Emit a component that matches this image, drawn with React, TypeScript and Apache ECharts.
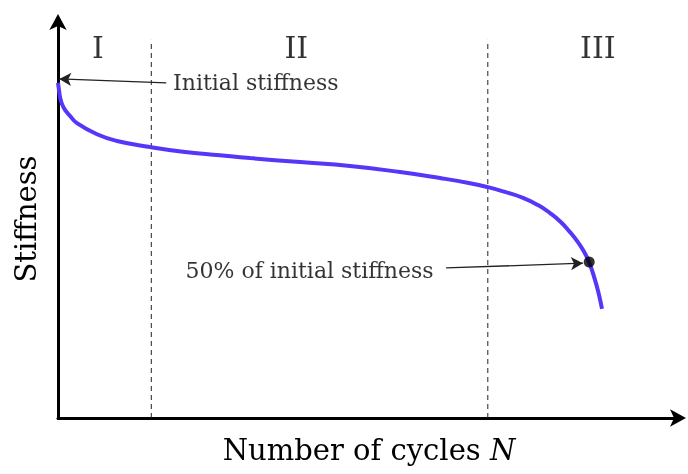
import React, { useEffect, useRef } from "react";
import * as echarts from "echarts";

// Stiffness degradation curve (schematic units 0..100)
const cycles = [0, 0.16, 0.32, 0.64, 1.13, 1.93, 3.05, 6.27, 9.49, 14.79, 20.1, 26.05, 30.87, 38.91, 46.95, 54.98, 61.41, 66.24, 69.13, 71.86, 74.76, 77.17, 79.1, 80.87, 82.32, 83.44, 84.41, 85.37, 86.33, 86.98, 87.46];
const stiffness = [84.2, 82.4, 80.7, 78.9, 77.4, 75.9, 74.1, 71.3, 69.6, 68.1, 66.9, 66.0, 65.3, 64.3, 63.3, 61.8, 60.3, 59.0, 58.0, 56.8, 55.3, 53.5, 51.5, 49.2, 46.7, 44.5, 42.2, 39.2, 34.7, 30.9, 27.4];
const stageBounds = [15.0, 69.1];
const stageTop = 95;
const stageLabels = ["I", "II", "III"];
const stageLabelX = [6.4, 38.3, 86.8];
const halfPoint = [85.4, 39.2];
const initialArrow = [[17.4, 84.2], [0.2, 85.2]];
const halfArrow = [[62.4, 37.7], [84.4, 38.9]];
const initialText = "Initial stiffness";
const halfText = "50% of initial stiffness";

const SERIF = "'DejaVu Serif', 'Liberation Serif', serif";

export default function App() {
  const ref = useRef<HTMLDivElement>(null);
  useEffect(() => {
    if (!ref.current) return;
    const chart = echarts.init(ref.current, null, { renderer: "svg" });
    const axisCommon = {
      type: "value" as const,
      min: 0,
      max: 100,
      axisTick: { show: false },
      axisLabel: { show: false },
      splitLine: { show: false },
      axisLine: {
        show: true,
        symbol: ["none", "arrow"],
        symbolSize: [13, 16],
        symbolOffset: [0, 6],
        lineStyle: { color: "#000", width: 3 },
      },
      nameLocation: "middle" as const,
    };
    chart.setOption({
      animation: false,
      grid: { left: 58, right: 8, top: 20, bottom: 56, containLabel: false, outerBoundsMode: "none" },
      xAxis: {
        ...axisCommon,
        name: "Number of cycles {i|N}",
        nameGap: 17,
        nameTextStyle: {
          fontFamily: SERIF,
          fontSize: 29,
          color: "#000",
          rich: { i: { fontStyle: "italic", fontFamily: SERIF, fontSize: 29, color: "#000" } },
        },
      },
      yAxis: {
        ...axisCommon,
        name: "Stiffness",
        nameGap: 18,
        nameTextStyle: { fontFamily: SERIF, fontSize: 29, color: "#000" },
      },
      series: [
        {
          type: "line",
          data: cycles.map((c, i) => [c, stiffness[i]]),
          smooth: 0.5,
          showSymbol: false,
          lineStyle: { color: "#5636f8", width: 4 },
          z: 3,
        },
        ...stageBounds.map((b) => ({
          type: "line",
          data: [[b, 0], [b, stageTop]],
          showSymbol: false,
          lineStyle: { color: "#222", width: 1, type: [5, 4] },
          z: 1,
        })),
        {
          type: "scatter",
          data: [halfPoint],
          symbolSize: 11,
          itemStyle: { color: "#000" },
          z: 5,
          markLine: {
            silent: true,
            symbol: ["none", "arrow"],
            symbolSize: [10, 12],
            lineStyle: { color: "#222", width: 1.3, type: "solid" },
            label: { show: false },
            data: [
              [{ coord: initialArrow[0] }, { coord: initialArrow[1] }],
              [{ coord: halfArrow[0] }, { coord: halfArrow[1] }],
            ],
          },
        },
        {
          type: "scatter",
          data: stageLabelX.map((x, i) => ({ value: [x, 93], name: stageLabels[i] })),
          symbolSize: 0,
          label: {
            show: true,
            position: "inside",
            formatter: (p: any) => p.name,
            fontFamily: SERIF,
            fontSize: 30,
            color: "#000",
          },
        },
        {
          type: "scatter",
          data: [
            { value: [18.5, 84.4], name: initialText },
            { value: [20.5, 37.0], name: halfText },
          ],
          symbolSize: 0,
          label: {
            show: true,
            position: "right",
            distance: 0,
            formatter: (p: any) => p.name,
            fontFamily: SERIF,
            fontSize: 22,
            color: "#000",
          },
        },
      ],
    });
    return () => chart.dispose();
  }, []);
  return <div ref={ref} style={{ position: "fixed", left: 0, top: 0, width: 688, height: 474 }} />;
}
